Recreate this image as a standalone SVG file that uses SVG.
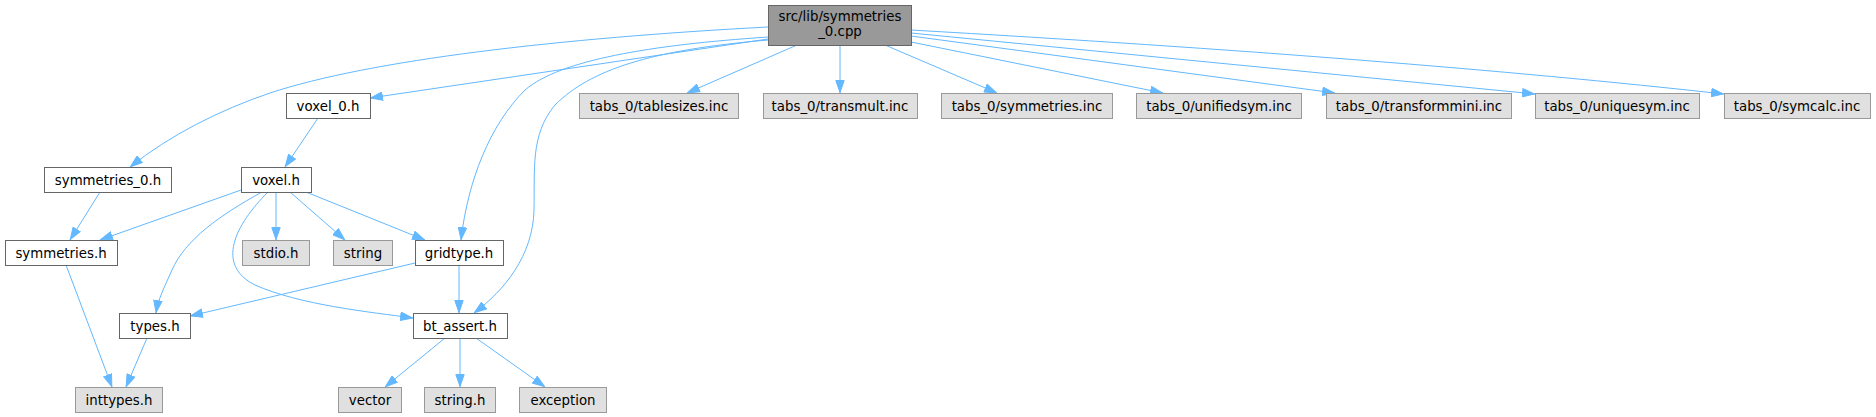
<svg xmlns="http://www.w3.org/2000/svg" width="1876" height="417" viewBox="0 0 1876 417">
<defs>
<style>
.n rect{fill:#ffffff;stroke:#666666;stroke-width:1}
.g rect{fill:#e0e0e0;stroke:#999999;stroke-width:1}
.r rect{fill:#999999;stroke:#666666;stroke-width:1}
text{font-family:"DejaVu Sans","Liberation Sans",sans-serif;font-size:13.33px;fill:#000000;text-anchor:middle}
.e path{fill:none;stroke:#63b8ff;stroke-width:1;marker-end:url(#ah)}
</style>
<marker id="ah" viewBox="0 0 13 9.4" refX="13" refY="4.7" markerWidth="13" markerHeight="9.4" markerUnits="userSpaceOnUse" orient="auto"><path d="M0.5,0.5L12.5,4.7L0.5,8.9z" fill="#63b8ff" stroke="#63b8ff"/></marker>
</defs>
<rect width="1876" height="417" fill="#ffffff"/>
<g class="e" id="edges">
<path d="M768,27 C560,38 370,60 270,93 C220,110 170,135 130,167"/>
<path d="M768,39 L370,98"/>
<path d="M768,37 C650,45 560,60 525,90 C490,125 468,180 461,240"/>
<path d="M768,40 C650,50 590,70 555,105 C530,135 535,170 534,210 C533,255 505,290 474,313"/>
<path d="M797,45 L687,93"/>
<path d="M840,45 L840,93"/>
<path d="M885,45 L997,93"/>
<path d="M911,42 L1163,93"/>
<path d="M911,36 L1335,93"/>
<path d="M911,33 L1535,94"/>
<path d="M911,30 Q1400,58 1724,94"/>
<path d="M318,118 L285,167"/>
<path d="M100,192 L70,240"/>
<path d="M241,190 L100,240"/>
<path d="M262,192 C220,215 185,240 172,270 C163,290 158,300 156,313"/>
<path d="M268,192 C235,225 215,265 255,285 C300,305 370,312 413,318"/>
<path d="M276,192 L276,240"/>
<path d="M290,192 L345,240"/>
<path d="M306,192 L425,240"/>
<path d="M459,265 L459,313"/>
<path d="M415,263 L190,316"/>
<path d="M66,265 L112,387"/>
<path d="M147,338 L126,387"/>
<path d="M445,338 L385,387"/>
<path d="M460,338 L460,387"/>
<path d="M476,338 L545,387"/>
</g>
<g id="root" class="r"><rect x="768.5" y="5.5" width="143" height="40"/><text x="840" y="21">src/lib/symmetries</text><text x="840" y="36">_0.cpp</text></g>
<g id="voxel_0_h" class="n"><rect x="286.5" y="93.5" width="84" height="25"/><text x="328" y="110.5">voxel_0.h</text></g>
<g id="tablesizes" class="g"><rect x="579.5" y="93.5" width="159" height="25"/><text x="659" y="110.5">tabs_0/tablesizes.inc</text></g>
<g id="transmult" class="g"><rect x="763.5" y="93.5" width="154" height="25"/><text x="840" y="110.5">tabs_0/transmult.inc</text></g>
<g id="symmetries_inc" class="g"><rect x="941.5" y="93.5" width="171" height="25"/><text x="1027" y="110.5">tabs_0/symmetries.inc</text></g>
<g id="unifiedsym" class="g"><rect x="1136.5" y="93.5" width="165" height="25"/><text x="1219" y="110.5">tabs_0/unifiedsym.inc</text></g>
<g id="transformmini" class="g"><rect x="1326.5" y="93.5" width="185" height="25"/><text x="1419" y="110.5">tabs_0/transformmini.inc</text></g>
<g id="uniquesym" class="g"><rect x="1535.5" y="93.5" width="164" height="25"/><text x="1617" y="110.5">tabs_0/uniquesym.inc</text></g>
<g id="symcalc" class="g"><rect x="1724.5" y="93.5" width="146" height="25"/><text x="1797" y="110.5">tabs_0/symcalc.inc</text></g>
<g id="symmetries_0_h" class="n"><rect x="44.5" y="167.5" width="127" height="25"/><text x="108" y="184.5">symmetries_0.h</text></g>
<g id="voxel_h" class="n"><rect x="241.5" y="167.5" width="70" height="25"/><text x="276" y="184.5">voxel.h</text></g>
<g id="symmetries_h" class="n"><rect x="5.5" y="240.5" width="112" height="25"/><text x="61" y="257.5">symmetries.h</text></g>
<g id="stdio_h" class="g"><rect x="242.5" y="240.5" width="67" height="25"/><text x="276" y="257.5">stdio.h</text></g>
<g id="string" class="g"><rect x="333.5" y="240.5" width="59" height="25"/><text x="363" y="257.5">string</text></g>
<g id="gridtype_h" class="n"><rect x="415.5" y="240.5" width="88" height="25"/><text x="459" y="257.5">gridtype.h</text></g>
<g id="types_h" class="n"><rect x="119.5" y="313.5" width="71" height="25"/><text x="155" y="330.5">types.h</text></g>
<g id="bt_assert_h" class="n"><rect x="413.5" y="313.5" width="94" height="25"/><text x="460" y="330.5">bt_assert.h</text></g>
<g id="inttypes_h" class="g"><rect x="75.5" y="387.5" width="87" height="25"/><text x="119" y="404.5">inttypes.h</text></g>
<g id="vector" class="g"><rect x="338.5" y="387.5" width="63" height="25"/><text x="370" y="404.5">vector</text></g>
<g id="string_h" class="g"><rect x="424.5" y="387.5" width="71" height="25"/><text x="460" y="404.5">string.h</text></g>
<g id="exception" class="g"><rect x="519.5" y="387.5" width="87" height="25"/><text x="563" y="404.5">exception</text></g>
</svg>
